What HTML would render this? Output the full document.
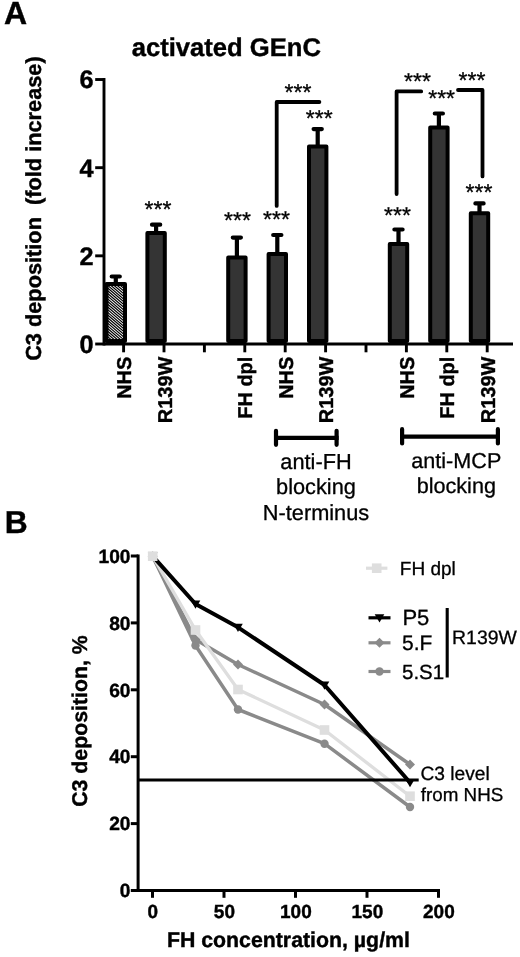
<!DOCTYPE html>
<html lang="en"><head><meta charset="utf-8"><title>Figure</title>
<style>html,body{margin:0;padding:0;background:#fff}body{width:520px;height:957px;overflow:hidden}svg{display:block}</style>
</head><body>
<svg width="520" height="957" viewBox="0 0 520 957" font-family='"Liberation Sans", Arial, Helvetica, sans-serif' text-rendering="geometricPrecision">
<rect width="520" height="957" fill="#fff"/>
<text transform="translate(4.0,24.3)" font-size="32" font-weight="bold" text-anchor="start" fill="#000" stroke="#000" stroke-width="0.4">A</text>
<text transform="translate(226.3,56)" font-size="25.6" font-weight="bold" text-anchor="middle" fill="#000" stroke="#000" stroke-width="0.4">activated GEnC</text>
<text transform="translate(41,208.6) rotate(-90)" font-size="21.75" font-weight="bold" text-anchor="middle" fill="#000" stroke="#000" stroke-width="0.4">C3 deposition&#160;&#160;(fold increase)</text>
<g stroke="#000" stroke-width="2.9" fill="none">
<path d="M104.0 78.06999999999998 V345.45"/>
<path d="M104.0 344.0 H513"/>
<path d="M95.2 344.0 H104.0"/>
<path d="M95.2 255.84 H104.0"/>
<path d="M95.2 167.68 H104.0"/>
<path d="M95.2 79.51999999999998 H104.0"/>
<path d="M123.6 344.0 V352.3"/>
<path d="M164.0 344.0 V352.3"/>
<path d="M204.4 344.0 V352.3"/>
<path d="M244.8 344.0 V352.3"/>
<path d="M285.2 344.0 V352.3"/>
<path d="M325.6 344.0 V352.3"/>
<path d="M366.0 344.0 V352.3"/>
<path d="M406.4 344.0 V352.3"/>
<path d="M446.8 344.0 V352.3"/>
<path d="M487.2 344.0 V352.3"/>
</g>
<text transform="translate(93.7,352.8)" font-size="25.3" font-weight="bold" text-anchor="end" fill="#000" stroke="#000" stroke-width="0.4">0</text>
<text transform="translate(93.7,264.6)" font-size="25.3" font-weight="bold" text-anchor="end" fill="#000" stroke="#000" stroke-width="0.4">2</text>
<text transform="translate(93.7,176.5)" font-size="25.3" font-weight="bold" text-anchor="end" fill="#000" stroke="#000" stroke-width="0.4">4</text>
<text transform="translate(93.7,88.3)" font-size="25.3" font-weight="bold" text-anchor="end" fill="#000" stroke="#000" stroke-width="0.4">6</text>
<path d="M115.8 284.0 V276.5 M111.7 276.5 H119.8" stroke="#000" stroke-width="4.2" stroke-linecap="round" fill="none"/>
<rect x="106.50" y="284.00" width="18.50" height="57.00" fill="#fff"/>
<clipPath id="hc"><rect x="106.50" y="284.00" width="18.50" height="57.00"/></clipPath>
<path d="M106.5 265.45L125.0 281.30M106.5 268.15L125.0 284.00M106.5 270.85L125.0 286.70M106.5 273.55L125.0 289.40M106.5 276.25L125.0 292.10M106.5 278.95L125.0 294.80M106.5 281.65L125.0 297.50M106.5 284.35L125.0 300.20M106.5 287.05L125.0 302.90M106.5 289.75L125.0 305.60M106.5 292.45L125.0 308.30M106.5 295.15L125.0 311.00M106.5 297.85L125.0 313.70M106.5 300.55L125.0 316.40M106.5 303.25L125.0 319.10M106.5 305.95L125.0 321.80M106.5 308.65L125.0 324.50M106.5 311.35L125.0 327.20M106.5 314.05L125.0 329.90M106.5 316.75L125.0 332.60M106.5 319.45L125.0 335.30M106.5 322.15L125.0 338.00M106.5 324.85L125.0 340.70M106.5 327.55L125.0 343.40M106.5 330.25L125.0 346.10M106.5 332.95L125.0 348.80M106.5 335.65L125.0 351.50M106.5 338.35L125.0 354.20M106.5 341.05L125.0 356.90" stroke="#000" stroke-width="1.2" fill="none" clip-path="url(#hc)"/>
<rect x="106.50" y="284.00" width="18.50" height="57.00" fill="none" stroke="#000" stroke-width="4.0" stroke-linejoin="round"/>
<path d="M156.1 233.0 V224.7 M152.0 224.7 H160.2" stroke="#000" stroke-width="4.2" stroke-linecap="round" fill="none"/>
<rect x="147.40" y="233.00" width="17.40" height="108.00" fill="#343434" stroke="#000" stroke-width="4.0" stroke-linejoin="round"/>
<path d="M236.9 257.5 V237.6 M232.8 237.6 H240.9" stroke="#000" stroke-width="4.2" stroke-linecap="round" fill="none"/>
<rect x="228.20" y="257.50" width="17.40" height="83.50" fill="#343434" stroke="#000" stroke-width="4.0" stroke-linejoin="round"/>
<path d="M277.3 254.0 V235.0 M273.2 235.0 H281.4" stroke="#000" stroke-width="4.2" stroke-linecap="round" fill="none"/>
<rect x="268.60" y="254.00" width="17.40" height="87.00" fill="#343434" stroke="#000" stroke-width="4.0" stroke-linejoin="round"/>
<path d="M317.7 146.5 V129.1 M313.6 129.1 H321.8" stroke="#000" stroke-width="4.2" stroke-linecap="round" fill="none"/>
<rect x="309.00" y="146.50" width="17.40" height="194.50" fill="#343434" stroke="#000" stroke-width="4.0" stroke-linejoin="round"/>
<path d="M398.5 244.0 V229.5 M394.4 229.5 H402.6" stroke="#000" stroke-width="4.2" stroke-linecap="round" fill="none"/>
<rect x="389.80" y="244.00" width="17.40" height="97.00" fill="#343434" stroke="#000" stroke-width="4.0" stroke-linejoin="round"/>
<path d="M438.9 127.5 V113.5 M434.8 113.5 H442.9" stroke="#000" stroke-width="4.2" stroke-linecap="round" fill="none"/>
<rect x="430.20" y="127.50" width="17.40" height="213.50" fill="#343434" stroke="#000" stroke-width="4.0" stroke-linejoin="round"/>
<path d="M479.5 213.2 V203.4 M475.4 203.4 H483.6" stroke="#000" stroke-width="4.2" stroke-linecap="round" fill="none"/>
<rect x="470.80" y="213.20" width="17.40" height="127.80" fill="#343434" stroke="#000" stroke-width="4.0" stroke-linejoin="round"/>
<text transform="translate(131.1,356.6) rotate(-90)" font-size="20" font-weight="bold" text-anchor="end" fill="#000" stroke="#000" stroke-width="0.4">NHS</text>
<text transform="translate(171.5,356.6) rotate(-90)" font-size="20" font-weight="bold" text-anchor="end" fill="#000" stroke="#000" stroke-width="0.4">R139W</text>
<text transform="translate(252.3,356.6) rotate(-90)" font-size="20" font-weight="bold" text-anchor="end" fill="#000" stroke="#000" stroke-width="0.4">FH dpl</text>
<text transform="translate(292.7,356.6) rotate(-90)" font-size="20" font-weight="bold" text-anchor="end" fill="#000" stroke="#000" stroke-width="0.4">NHS</text>
<text transform="translate(333.1,356.6) rotate(-90)" font-size="20" font-weight="bold" text-anchor="end" fill="#000" stroke="#000" stroke-width="0.4">R139W</text>
<text transform="translate(413.9,356.6) rotate(-90)" font-size="20" font-weight="bold" text-anchor="end" fill="#000" stroke="#000" stroke-width="0.4">NHS</text>
<text transform="translate(454.3,356.6) rotate(-90)" font-size="20" font-weight="bold" text-anchor="end" fill="#000" stroke="#000" stroke-width="0.4">FH dpl</text>
<text transform="translate(494.7,356.6) rotate(-90)" font-size="20" font-weight="bold" text-anchor="end" fill="#000" stroke="#000" stroke-width="0.4">R139W</text>
<text transform="translate(158,217.3)" font-size="23" text-anchor="middle" fill="#000" stroke="#000" stroke-width="0.3">***</text>
<text transform="translate(237.5,227.9)" font-size="23" text-anchor="middle" fill="#000" stroke="#000" stroke-width="0.3">***</text>
<text transform="translate(276.5,227.3)" font-size="23" text-anchor="middle" fill="#000" stroke="#000" stroke-width="0.3">***</text>
<text transform="translate(319.2,126.3)" font-size="23" text-anchor="middle" fill="#000" stroke="#000" stroke-width="0.3">***</text>
<text transform="translate(297.9,99.9)" font-size="23" text-anchor="middle" fill="#000" stroke="#000" stroke-width="0.3">***</text>
<text transform="translate(397.5,223.0)" font-size="23" text-anchor="middle" fill="#000" stroke="#000" stroke-width="0.3">***</text>
<text transform="translate(441.6,106.3)" font-size="23" text-anchor="middle" fill="#000" stroke="#000" stroke-width="0.3">***</text>
<text transform="translate(479,200.3)" font-size="23" text-anchor="middle" fill="#000" stroke="#000" stroke-width="0.3">***</text>
<text transform="translate(417.5,88.8)" font-size="23" text-anchor="middle" fill="#000" stroke="#000" stroke-width="0.3">***</text>
<text transform="translate(472,87.8)" font-size="23" text-anchor="middle" fill="#000" stroke="#000" stroke-width="0.3">***</text>
<g stroke="#000" stroke-width="3.8" fill="none" stroke-linecap="round" stroke-linejoin="round">
<path d="M276.7 205.9 V102 H319.4"/>
<path d="M396.6 194 V91.4 H421.2"/>
<path d="M458 90 H482.5 V176.4"/>
</g>
<g stroke="#000" stroke-width="4.2" fill="none">
<path d="M274 437.9 H338.6"/><path d="M276 430.8 V444.8 M336.6 430.8 V444.8" stroke-linecap="round"/>
<path d="M400 436.6 H500"/><path d="M402.1 429.2 V443.4 M497.9 429.2 V443.4" stroke-linecap="round"/>
</g>
<text transform="translate(316,469.3)" font-size="21.75" text-anchor="middle" fill="#000" stroke="#000" stroke-width="0.3">anti-FH</text>
<text transform="translate(316,494.0)" font-size="21.75" text-anchor="middle" fill="#000" stroke="#000" stroke-width="0.3">blocking</text>
<text transform="translate(316,519.8)" font-size="21.75" text-anchor="middle" fill="#000" stroke="#000" stroke-width="0.3">N-terminus</text>
<text transform="translate(456.3,467.6)" font-size="21.6" text-anchor="middle" fill="#000" stroke="#000" stroke-width="0.3">anti-MCP</text>
<text transform="translate(456.3,492.5)" font-size="21.6" text-anchor="middle" fill="#000" stroke="#000" stroke-width="0.3">blocking</text>
<text transform="translate(4.8,533)" font-size="31.8" font-weight="bold" text-anchor="start" fill="#000" stroke="#000" stroke-width="0.4">B</text>
<g stroke="#000" stroke-width="3.0" fill="none">
<path d="M138.1 554.5 V892.0"/>
<path d="M138.1 890.5 H440.0"/>
<path d="M130.8 890.5 H138.1"/>
<path d="M130.8 823.6 H138.1"/>
<path d="M130.8 756.7 H138.1"/>
<path d="M130.8 689.8 H138.1"/>
<path d="M130.8 622.9 H138.1"/>
<path d="M130.8 556.0 H138.1"/>
<path d="M152.5 890.5 V897.8"/>
<path d="M224.0 890.5 V897.8"/>
<path d="M295.5 890.5 V897.8"/>
<path d="M367.0 890.5 V897.8"/>
<path d="M438.5 890.5 V897.8"/>
</g>
<text transform="translate(130.5,897.2)" font-size="19.2" font-weight="bold" text-anchor="end" fill="#000" stroke="#000" stroke-width="0.4">0</text>
<text transform="translate(130.5,830.3)" font-size="19.2" font-weight="bold" text-anchor="end" fill="#000" stroke="#000" stroke-width="0.4">20</text>
<text transform="translate(130.5,763.4)" font-size="19.2" font-weight="bold" text-anchor="end" fill="#000" stroke="#000" stroke-width="0.4">40</text>
<text transform="translate(130.5,696.5)" font-size="19.2" font-weight="bold" text-anchor="end" fill="#000" stroke="#000" stroke-width="0.4">60</text>
<text transform="translate(130.5,629.6)" font-size="19.2" font-weight="bold" text-anchor="end" fill="#000" stroke="#000" stroke-width="0.4">80</text>
<text transform="translate(130.5,562.7)" font-size="19.2" font-weight="bold" text-anchor="end" fill="#000" stroke="#000" stroke-width="0.4">100</text>
<text transform="translate(152.9,917.6)" font-size="19.0" font-weight="bold" text-anchor="middle" fill="#000" stroke="#000" stroke-width="0.4">0</text>
<text transform="translate(224.4,917.6)" font-size="19.0" font-weight="bold" text-anchor="middle" fill="#000" stroke="#000" stroke-width="0.4">50</text>
<text transform="translate(295.9,917.6)" font-size="19.0" font-weight="bold" text-anchor="middle" fill="#000" stroke="#000" stroke-width="0.4">100</text>
<text transform="translate(367.4,917.6)" font-size="19.0" font-weight="bold" text-anchor="middle" fill="#000" stroke="#000" stroke-width="0.4">150</text>
<text transform="translate(438.9,917.6)" font-size="19.0" font-weight="bold" text-anchor="middle" fill="#000" stroke="#000" stroke-width="0.4">200</text>
<text transform="translate(288.4,947)" font-size="21.3" font-weight="bold" text-anchor="middle" fill="#000" stroke="#000" stroke-width="0.4">FH concentration, µg/ml</text>
<text transform="translate(87.3,721) rotate(-90)" font-size="21.3" font-weight="bold" text-anchor="middle" fill="#000" stroke="#000" stroke-width="0.4">C3 deposition, %</text>
<polyline points="152.7,556.2 195.5,645.5 238.0,709.5 324.5,743.7 410.0,807.0" fill="none" stroke="#8a8a8a" stroke-width="3.5" stroke-linejoin="round"/>
<polyline points="152.7,556.2 195.5,639.5 238.0,664.5 324.5,704.5 410.0,764.5" fill="none" stroke="#8a8a8a" stroke-width="3.5" stroke-linejoin="round"/>
<polyline points="152.7,556.2 195.5,630.0 238.0,689.5 324.5,730.0 410.0,796.2" fill="none" stroke="#dedede" stroke-width="3.3" stroke-linejoin="round"/>
<polyline points="152.7,556.2 195.5,604.0 238.0,627.3 324.5,685.0 410.0,782.5" fill="none" stroke="#000" stroke-width="4.0" stroke-linejoin="round"/>
<path d="M138.1 780 H418.7" stroke="#000" stroke-width="3"/>
<circle cx="152.7" cy="556.2" r="4.2" fill="#8a8a8a"/>
<circle cx="195.5" cy="645.5" r="4.2" fill="#8a8a8a"/>
<circle cx="238" cy="709.5" r="4.2" fill="#8a8a8a"/>
<circle cx="324.5" cy="743.7" r="4.2" fill="#8a8a8a"/>
<circle cx="410" cy="807" r="4.2" fill="#8a8a8a"/>
<path d="M147.7 556.2 L152.7 551.2 L157.7 556.2 L152.7 561.2Z" fill="#8a8a8a"/>
<path d="M190.5 639.5 L195.5 634.5 L200.5 639.5 L195.5 644.5Z" fill="#8a8a8a"/>
<path d="M233.0 664.5 L238 659.5 L243.0 664.5 L238 669.5Z" fill="#8a8a8a"/>
<path d="M319.5 704.5 L324.5 699.5 L329.5 704.5 L324.5 709.5Z" fill="#8a8a8a"/>
<path d="M405.0 764.5 L410 759.5 L415.0 764.5 L410 769.5Z" fill="#8a8a8a"/>
<path d="M147.9 552.6 H157.5 L152.7 561.0Z" fill="#000"/>
<path d="M190.7 600.4 H200.3 L195.5 608.8Z" fill="#000"/>
<path d="M233.2 623.7 H242.8 L238 632.1Z" fill="#000"/>
<path d="M319.7 681.4 H329.3 L324.5 689.8Z" fill="#000"/>
<path d="M405.2 778.9 H414.8 L410 787.3Z" fill="#000"/>
<rect x="147.9" y="551.4" width="9.6" height="9.6" fill="#dedede"/>
<rect x="190.7" y="625.2" width="9.6" height="9.6" fill="#dedede"/>
<rect x="233.2" y="684.7" width="9.6" height="9.6" fill="#dedede"/>
<rect x="319.7" y="725.2" width="9.6" height="9.6" fill="#dedede"/>
<rect x="405.2" y="791.4" width="9.6" height="9.6" fill="#dedede"/>
<path d="M366 568.2 H387.4" stroke="#dedede" stroke-width="3.2"/>
<rect x="371.9" y="563.4" width="9.6" height="9.6" fill="#dedede"/>
<text transform="translate(399.8,575.1)" font-size="19.0" text-anchor="start" fill="#000" stroke="#000" stroke-width="0.3">FH dpl</text>
<path d="M368.5 617.8 H390.5" stroke="#000" stroke-width="3.2"/>
<path d="M374.7 614.2 H384.3 L379.5 622.6Z" fill="#000"/>
<text transform="translate(402.4,625.0)" font-size="22" text-anchor="start" fill="#000" stroke="#000" stroke-width="0.3">P5</text>
<path d="M368.5 642.8 H390.5" stroke="#8a8a8a" stroke-width="3.2"/>
<path d="M374.5 642.8 L379.5 637.8 L384.5 642.8 L379.5 647.8Z" fill="#8a8a8a"/>
<text transform="translate(402.0,650.4)" font-size="21" text-anchor="start" fill="#000" stroke="#000" stroke-width="0.3">5.F</text>
<path d="M368.5 671.5 H390.5" stroke="#8a8a8a" stroke-width="3.2"/>
<circle cx="379.5" cy="671.5" r="4.2" fill="#8a8a8a"/>
<text transform="translate(402.0,678.8)" font-size="20.5" text-anchor="start" fill="#000" stroke="#000" stroke-width="0.3">5.S1</text>
<path d="M447.2 608 V677.5" stroke="#000" stroke-width="3.1"/>
<text transform="translate(452.1,644.3)" font-size="19.4" text-anchor="start" fill="#000" stroke="#000" stroke-width="0.3">R139W</text>
<text transform="translate(420.4,779.5)" font-size="19.2" text-anchor="start" fill="#000" stroke="#000" stroke-width="0.3">C3 level</text>
<text transform="translate(420.8,800.5)" font-size="18.8" text-anchor="start" fill="#000" stroke="#000" stroke-width="0.3">from NHS</text>
</svg>
</body></html>
